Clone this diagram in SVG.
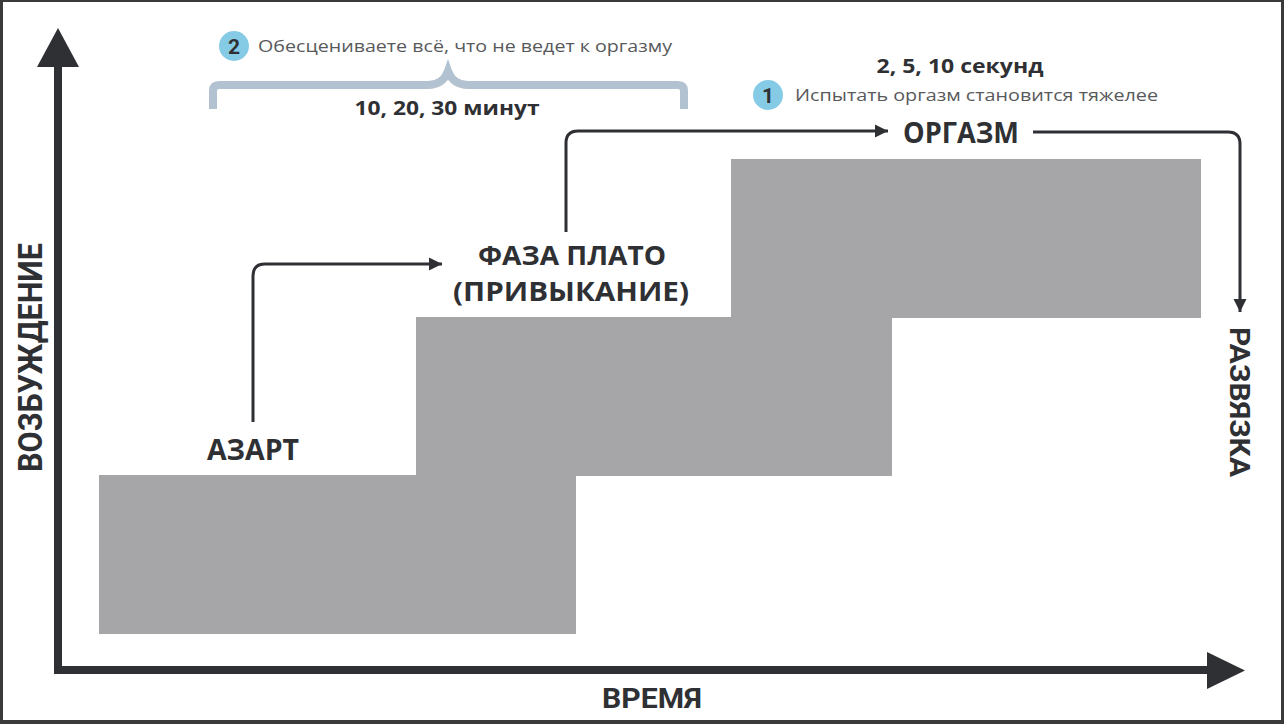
<svg xmlns="http://www.w3.org/2000/svg" width="1284" height="724" viewBox="0 0 1284 724">
<style>
.bar{fill:#a6a6a8}
.lbl{font-family:"Open Sans","Liberation Sans",sans-serif;font-weight:700;fill:#2f3033}
.ax{font-family:Roboto,"Liberation Sans",sans-serif;font-weight:700;fill:#2f3033}
.note{font-family:"Open Sans","Liberation Sans",sans-serif;font-weight:400;fill:#58595b;font-size:17px}
.num{font-family:"Open Sans","Liberation Sans",sans-serif;font-weight:700;fill:#2f3033;font-size:19px}
.badge{fill:#86cbe6}
.bnum{font-family:Roboto,"Liberation Sans",sans-serif;font-weight:700;fill:#2f3033;font-size:21px}
.conn{fill:none;stroke:#2f3033;stroke-width:3}
</style>
<defs>
<marker id="ah" markerUnits="userSpaceOnUse" markerWidth="14" markerHeight="14" viewBox="0 0 14 14" refX="13" refY="7" orient="auto">
<path d="M0,0.5 L13,7 L0,13.5 Z" fill="#2f3033"/>
</marker>
</defs>
<rect x="0" y="0" width="1284" height="724" fill="#3a3a3a"/>
<rect x="3" y="2" width="1278" height="718" fill="#ffffff"/>

<g id="axes">
<polyline points="58,66 58,670 1210,670" fill="none" stroke="#2f3033" stroke-width="8" stroke-linejoin="miter"/>
<polygon points="37,67 79,67 58,28" fill="#2f3033"/>
<polygon points="1207,652 1207,689 1245,670.5" fill="#2f3033"/>
<text class="ax" font-size="33" text-anchor="middle" textLength="229" lengthAdjust="spacingAndGlyphs" transform="translate(42,357.5) rotate(-90)">ВОЗБУЖДЕНИЕ</text>
<text class="ax" font-size="28" x="652" y="708" text-anchor="middle" textLength="100" lengthAdjust="spacingAndGlyphs">ВРЕМЯ</text>
</g>

<g id="bars">
<rect class="bar" x="99" y="475" width="477" height="159"/>
<rect class="bar" x="416" y="317" width="476" height="159"/>
<rect class="bar" x="731" y="159" width="470" height="159"/>
</g>

<g id="connectors">
<path class="conn" d="M253,422 V276 Q253,264 265,264 H442" marker-end="url(#ah)"/>
<path class="conn" d="M566,232 V143 Q566,131 578,131 H888" marker-end="url(#ah)"/>
<path class="conn" d="M1033,132 H1228 Q1240,132 1240,144 V312" marker-end="url(#ah)"/>
</g>

<g id="node-azart">
<text class="lbl" font-size="29" x="253" y="460" text-anchor="middle" textLength="92" lengthAdjust="spacingAndGlyphs">АЗАРТ</text>
</g>
<g id="node-plato">
<text class="lbl" font-size="26" x="572" y="265" text-anchor="middle" textLength="188" lengthAdjust="spacingAndGlyphs">ФАЗА ПЛАТО</text>
<text class="lbl" font-size="26" x="571" y="301" text-anchor="middle" textLength="236" lengthAdjust="spacingAndGlyphs">(ПРИВЫКАНИЕ)</text>
</g>
<g id="node-orgasm">
<text class="lbl" font-size="29" x="961" y="143" text-anchor="middle" textLength="116" lengthAdjust="spacingAndGlyphs">ОРГАЗМ</text>
</g>
<g id="node-razvyazka">
<text class="ax" font-size="28" text-anchor="middle" textLength="150" lengthAdjust="spacingAndGlyphs" transform="translate(1230,402) rotate(90)">РАЗВЯЗКА</text>
</g>

<g id="note-2">
<path d="M213,109 V91 Q213,85 219,85 H428 Q443,85 448,71 Q453,85 468,85 H678 Q684,85 684,91 V109" fill="none" stroke="#b3c2d0" stroke-width="8"/>
<circle class="badge" cx="234" cy="46" r="15"/>
<text class="bnum" x="234" y="53.5" text-anchor="middle">2</text>
<text class="note" x="258" y="52" textLength="414" lengthAdjust="spacingAndGlyphs">Обесцениваете всё, что не ведет к оргазму</text>
<text class="num" x="447" y="115" text-anchor="middle" textLength="185" lengthAdjust="spacingAndGlyphs">10, 20, 30 минут</text>
</g>

<g id="note-1">
<text class="num" x="960" y="73" text-anchor="middle" textLength="167" lengthAdjust="spacingAndGlyphs">2, 5, 10 секунд</text>
<circle class="badge" cx="768" cy="95" r="15"/>
<text class="bnum" x="768" y="102.5" text-anchor="middle">1</text>
<text class="note" x="795" y="101" textLength="363" lengthAdjust="spacingAndGlyphs">Испытать оргазм становится тяжелее</text>
</g>
</svg>
